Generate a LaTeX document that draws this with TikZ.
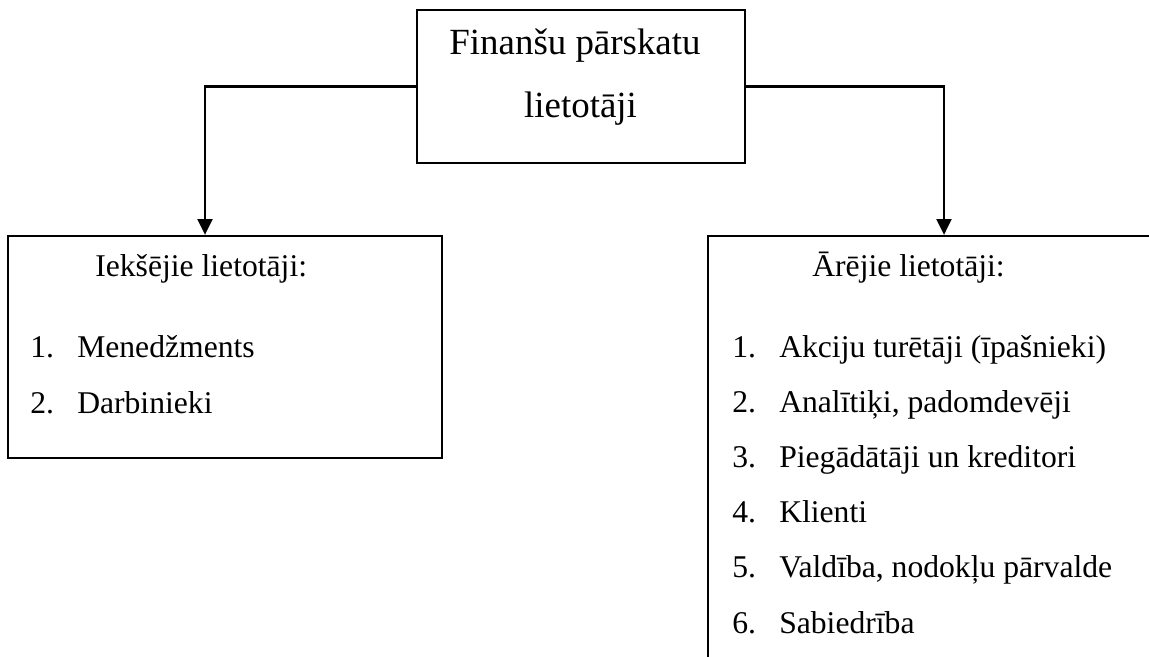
\documentclass[tikz,border=0pt]{standalone}
\usepackage{fontspec}
\setmainfont{Liberation Serif}
\usetikzlibrary{arrows.meta}

\begin{document}
\begin{tikzpicture}[
                box/.style={draw=black, line width=1.3pt, rectangle, inner sep=0pt},
                head/.style={font=\fontsize{21}{25}\selectfont, anchor=base, inner sep=0pt},
                txt/.style={font=\fontsize{18}{22}\selectfont, anchor=base west, inner sep=0pt},
                link/.style={line width=1.3pt, -{Triangle[width=8.5pt,length=9pt]}}
            ]
            % Picture frame (right box runs past the edge)
            \clip (0,0) rectangle (22.98,-13.14);

            % Top box
            \node[box, minimum width=6.56cm, minimum height=3.06cm] (users) at (11.62,-1.73) {};
            \node[head] (usersA) at (11.5,-1.10) {Finanšu pārskatu};
            \node[head] (usersB) at (11.61,-2.36) {lietotāji};

            % Left box: internal users
            \node[box, minimum width=8.68cm, minimum height=4.44cm] (internal) at (4.5,-6.94) {};
            \node[txt] (internalHead) at (1.9,-5.52) {Iekšējie lietotāji:};
            \foreach \i/\t [count=\k] in {1/Menedžments, 2/Darbinieki}
                \node[txt] (int\k) at (0.6,{-7.14-1.12*(\k-1)}) {\makebox[26.7pt][l]{\i.}\t};

            % Right box: external users
            \node[box, minimum width=9.44cm, minimum height=9.28cm] (external) at (18.88,-9.36) {};
            \node[txt] (externalHead) at (16.24,-5.52) {Ārējie lietotāji:};
            \foreach \i/\t [count=\k] in {1/Akciju turētāji (īpašnieki), 2/{Analītiķi, padomdevēji},
                    3/Piegādātāji un kreditori, 4/Klienti, 5/{Valdība, nodokļu pārvalde}, 6/Sabiedrība}
                \node[txt] (ext\k) at (14.64,{-7.14-1.104*(\k-1)}) {\makebox[26.7pt][l]{\i.}\t};

            % Connectors
            \draw[link] (users.west) -| ([xshift=-4mm]internal.north);
            \draw[link] (users.east) -| (external.north);

        \end{tikzpicture}
\end{document}
